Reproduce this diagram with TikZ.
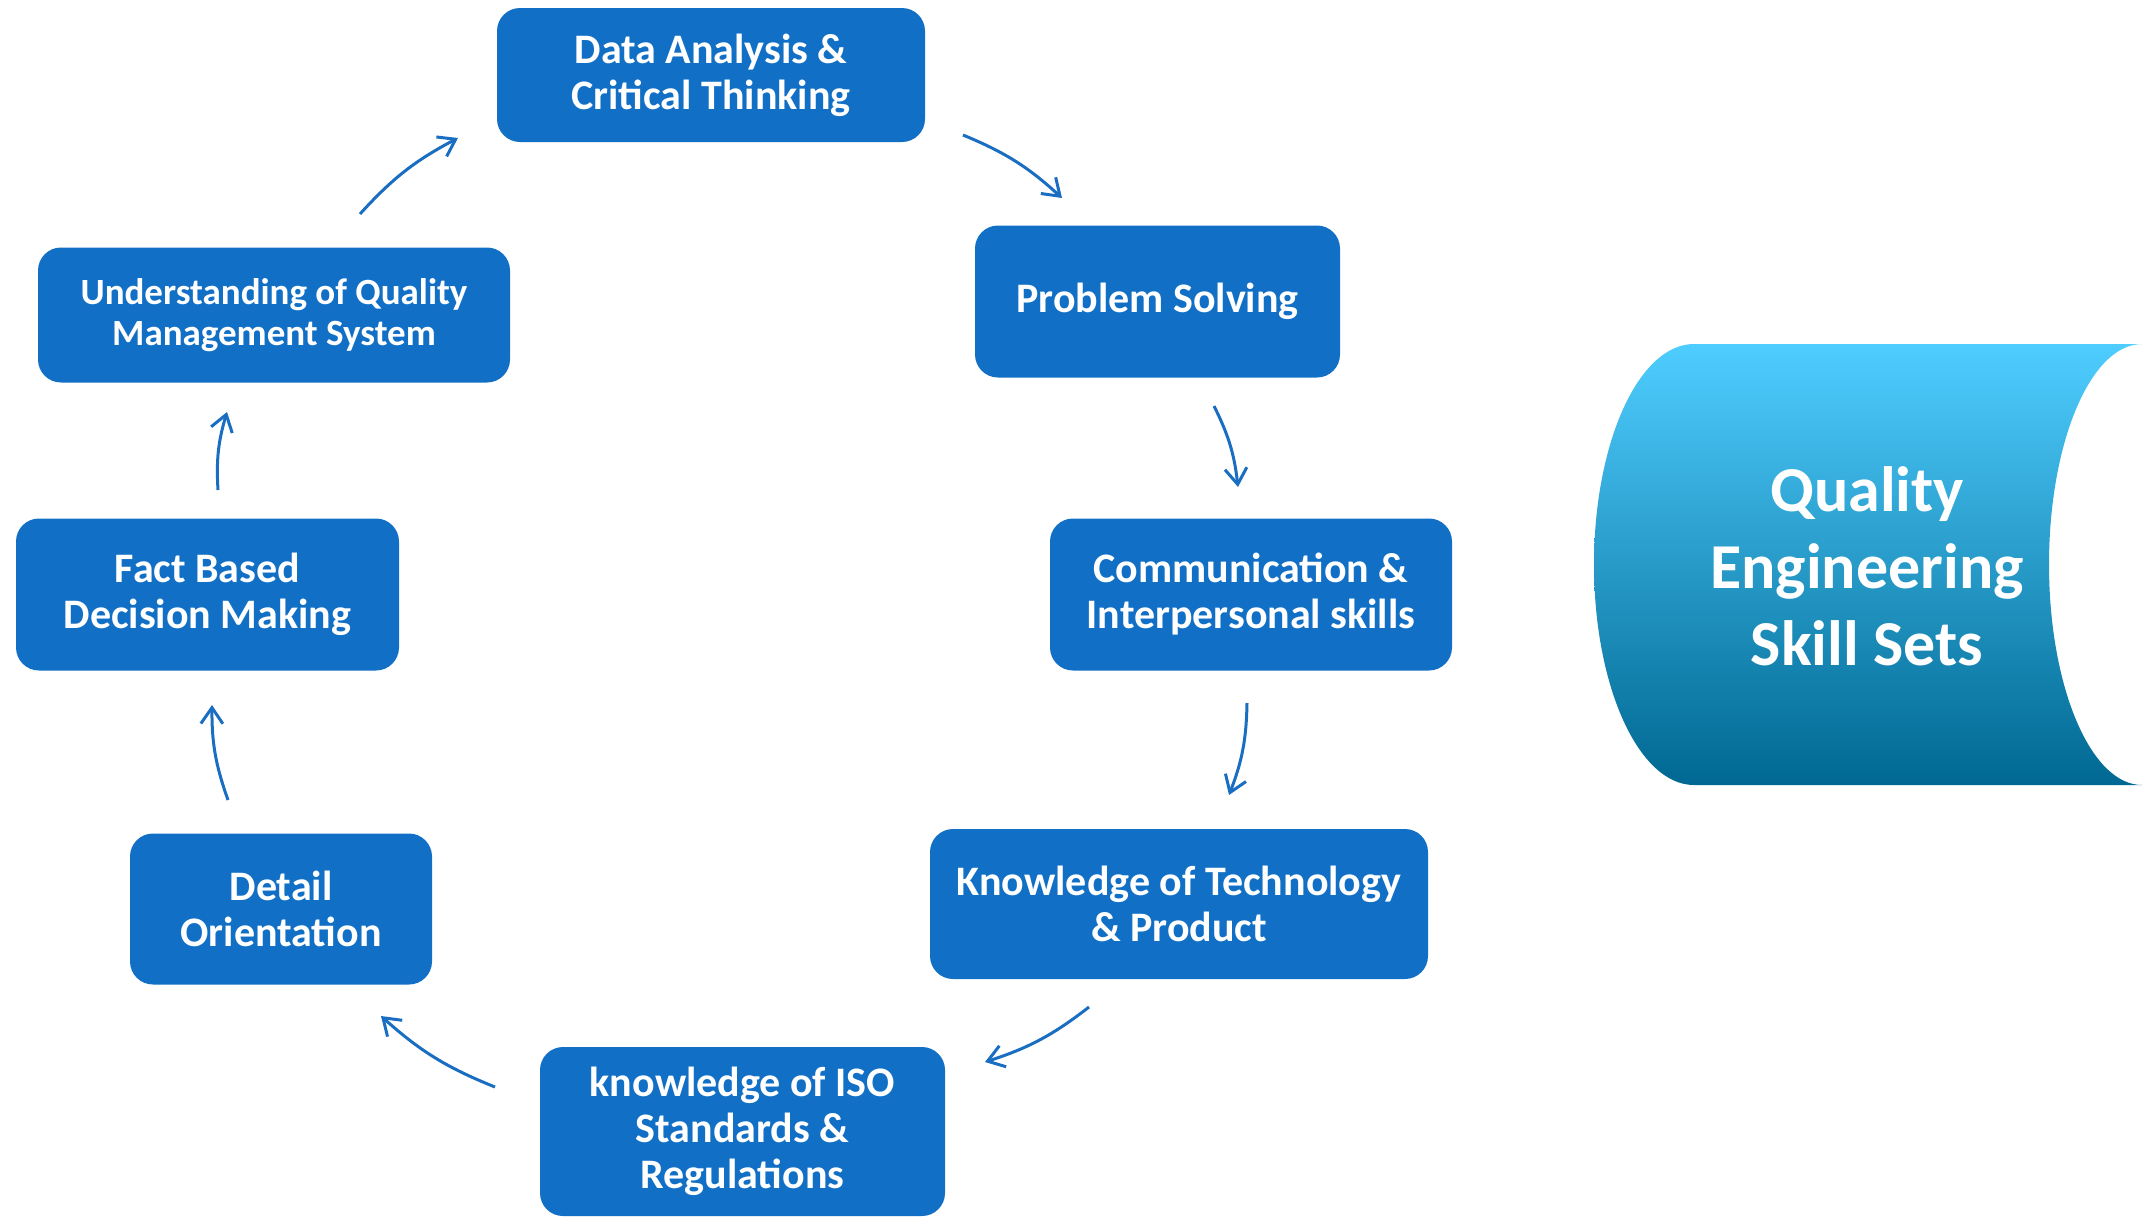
\documentclass[tikz,border=0pt]{standalone}
\usepackage{fontspec}
\setmainfont{Carlito}
\usetikzlibrary{arrows.meta}
\definecolor{boxblue}{HTML}{1170C6}
\definecolor{arrowblue}{HTML}{1A6EC2}
\definecolor{cyltop}{HTML}{4FCDFF}
\definecolor{cylmid}{HTML}{00A3E2}
\definecolor{cylbot}{HTML}{006892}
\begin{document}
\begin{tikzpicture}[x=0.5pt,y=-0.5pt,
  skillbox/.style={rectangle, rounded corners=11.5pt, fill=boxblue, text=white,
    font=\bfseries\fontsize{21pt}{23pt}\selectfont, align=center, inner sep=0pt},
  flowarrow/.style={draw=arrowblue, line width=1.5pt,
    -{Straight Barb[length=8pt,width=11pt,line width=1.5pt]}, bend left=10}
]
\useasboundingbox (0,0) rectangle (2142,1216);

% skill boxes
\node[skillbox, minimum width=214pt, minimum height=67pt] (data) at (711,75)
  {Data Analysis \&\\Critical Thinking};
\node[skillbox, minimum width=182.5pt, minimum height=76pt] (prob) at (1157.5,301.5)
  {Problem Solving};
\node[skillbox, minimum width=201pt, minimum height=76pt] (comm) at (1251,594.5)
  {Communication \&\\Interpersonal skills};
\node[skillbox, minimum width=249pt, minimum height=75pt] (tech) at (1179,904)
  {Knowledge of Technology\\\& Product};
\node[skillbox, minimum width=202.5pt, minimum height=84.5pt] (iso) at (742.5,1131.5)
  {knowledge of ISO\\Standards \&\\Regulations};
\node[skillbox, minimum width=151pt, minimum height=75.5pt] (detail) at (281,909)
  {Detail\\Orientation};
\node[skillbox, minimum width=191.5pt, minimum height=76pt] (fact) at (207.5,594.5)
  {Fact Based\\Decision Making};
\node[skillbox, minimum width=236pt, minimum height=67.5pt,
  font=\bfseries\fontsize{18.5pt}{20.5pt}\selectfont] (qms) at (274,315)
  {Understanding of Quality\\Management System};

% arrow end points
\coordinate (a1s) at (360,214);  \coordinate (a1e) at (458,138);
\coordinate (a2s) at (963,135);  \coordinate (a2e) at (1062,198);
\coordinate (a3s) at (1214,406); \coordinate (a3e) at (1238,487);
\coordinate (a4s) at (1247,703); \coordinate (a4e) at (1229,795);
\coordinate (a5s) at (1089,1007);\coordinate (a5e) at (985,1062);
\coordinate (a6s) at (495,1087); \coordinate (a6e) at (381,1016);
\coordinate (a7s) at (228,800);  \coordinate (a7e) at (212,705);
\coordinate (a8s) at (218,490);  \coordinate (a8e) at (227,412);

\draw[flowarrow] (a1s) to (a1e);
\draw[flowarrow] (a2s) to (a2e);
\draw[flowarrow] (a3s) to (a3e);
\draw[flowarrow] (a4s) to (a4e);
\draw[flowarrow] (a5s) to (a5e);
\draw[flowarrow] (a6s) to (a6e);
\draw[flowarrow] (a7s) to (a7e);
\draw[flowarrow] (a8s) to (a8e);

% cylinder
\shade[top color=cyltop, middle color=cylmid, bottom color=cylbot]
  (1694,344) -- (2142,344)
  arc[start angle=90, end angle=270, x radius=46.5pt, y radius=110.25pt]
  -- (1694,785)
  arc[start angle=270, end angle=90, x radius=50pt, y radius=110.25pt]
  -- cycle;
\node[text=white, font=\bfseries\fontsize{32pt}{38.5pt}\selectfont, align=center]
  (title) at (1867,566) {Quality\\Engineering\\Skill Sets};
\end{tikzpicture}
\end{document}
